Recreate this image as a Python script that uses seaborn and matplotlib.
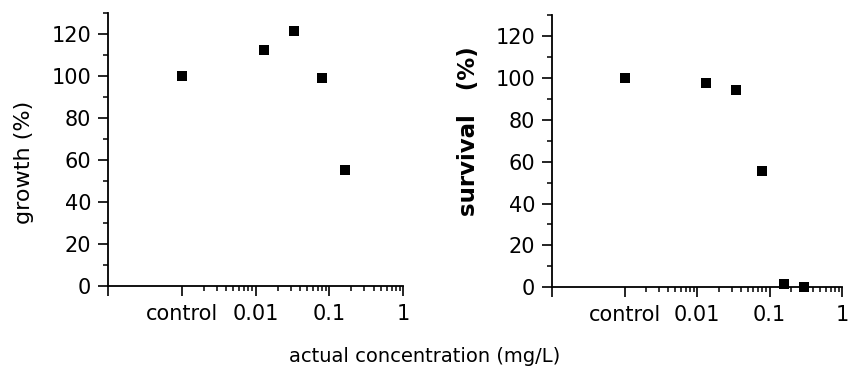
import numpy as np
import pandas as pd
import matplotlib.pyplot as plt
import matplotlib.ticker as mticker
import seaborn as sns

# concentrations (mg/L); control plotted at 0.001
growth_conc = [0.001, 0.013, 0.033, 0.079, 0.164]
growth_pct = [100, 112.6, 121.6, 99.0, 55.3]

survival_conc = [0.001, 0.0134, 0.034, 0.0795, 0.161, 0.297]
survival_pct = [100, 97.4, 94.4, 55.6, 1.4, 0]

tick_vals = [1e-4, 1e-3, 1e-2, 1e-1, 1]
tick_labels = ['', 'control', '0.01', '0.1', '1']

sns.set_style('ticks')
plt.rcParams['font.family'] = ['DejaVu Sans']
plt.rcParams['text.color'] = 'black'
plt.rcParams['axes.labelcolor'] = 'black'

fig = plt.figure(figsize=(8.48, 3.72), dpi=100)
ax1 = fig.add_axes([108 / 848, 1 - 285.7 / 372, 295 / 848, 272.4 / 372])
ax2 = fig.add_axes([552 / 848, 1 - 287.3 / 372, 290 / 848, 272.3 / 372])

growth = pd.DataFrame({'conc': growth_conc, 'pct': growth_pct})
survival = pd.DataFrame({'conc': survival_conc, 'pct': survival_pct})

for ax, df in [(ax1, growth), (ax2, survival)]:
    sns.scatterplot(data=df, x='conc', y='pct', marker='s', s=46, color='black',
                    linewidth=0, ax=ax, clip_on=False, zorder=3)
    ax.set_xscale('log')
    ax.set_xlim(1e-4, 1)
    ax.set_ylim(0, 130)
    ax.xaxis.set_major_locator(mticker.FixedLocator(tick_vals))
    ax.xaxis.set_major_formatter(mticker.FixedFormatter(tick_labels))
    minors = [m * d for d in [1e-3, 1e-2, 1e-1] for m in range(2, 10)]
    ax.xaxis.set_minor_locator(mticker.FixedLocator(minors))
    ax.xaxis.set_minor_formatter(mticker.NullFormatter())
    ax.set_yticks(np.arange(0, 121, 20))
    ax.set_yticks(np.arange(10, 131, 20), minor=True)
    ax.tick_params(axis='both', which='major', length=7, width=1.2, labelsize=15,
                   color='black', labelcolor='black', direction='out')
    ax.tick_params(axis='x', which='major', pad=6)
    ax.tick_params(axis='y', which='major', pad=5)
    ax.tick_params(axis='both', which='minor', length=3.5, width=1.1, color='black',
                   direction='out')
    for side in ['left', 'bottom']:
        ax.spines[side].set_linewidth(1.3)
        ax.spines[side].set_color('black')
    sns.despine(ax=ax)
    ax.set_xlabel('')

ax1.set_ylabel('growth (%)', fontsize=16)
ax1.yaxis.set_label_coords(-0.285, 0.454)
ax1.yaxis.label.set_va('center')

ax2.set_ylabel('survival   (%)', fontsize=16.5, fontweight='bold')
ax2.yaxis.set_label_coords((469 - 552) / 290, (287.3 - 131) / 272.3)
ax2.yaxis.label.set_va('center')

fig.text(425 / 848, 1 - 357 / 372, 'actual concentration (mg/L)', fontsize=14,
         ha='center', va='center')

fig.savefig('out.png', dpi=100)
